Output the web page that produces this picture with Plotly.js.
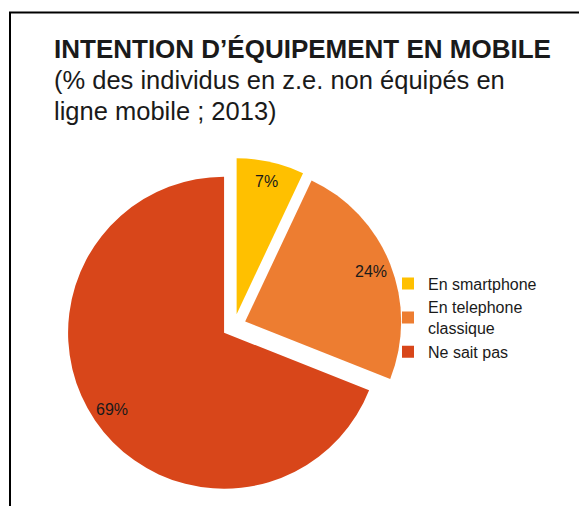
<!DOCTYPE html>
<html>
<head>
<meta charset="utf-8">
<script src="https://cdn.plot.ly/plotly-3.0.1.min.js"></script>
<style>html,body{margin:0;padding:0;background:#fff;}#chart{width:579px;height:506px;}</style>
</head>
<body>
<div id="chart"></div>
<script>
// ---- data ----
var categories = ["En smartphone", "En telephone<br>classique", "Ne sait pas"];
var values = [7, 24, 69];
var valueLabels = ["7%", "24%", "69%"];
var colors = ["#FFC000", "#ED7D31", "#D8461A"];

// ---- layout constants ----
var W = 579, H = 506;
var PULL = 0.077;
var domX = [0.114, 0.6943];
var domY = [0.0237, 0.6878];
var LABEL_R = 0.87; // label distance as fraction of radius
var FONT = "Liberation Sans, Arial, sans-serif";

// pie geometry (same as plotly's scalePies with zero margins)
var sw = W * (domX[1] - domX[0]), sh = H * (domY[1] - domY[0]);
var r = Math.min(sw, sh) / 2 / (1 + PULL);
var cx = W * (domX[0] + domX[1]) / 2;
var cy = H * (1 - (domY[0] + domY[1]) / 2);

var total = values.reduce(function (a, b) { return a + b; }, 0);
var annotations = [];
var cum = 0;
for (var i = 0; i < values.length; i++) {
  var mid = (cum + values[i] / 2) / total * 2 * Math.PI; // clockwise from top
  cum += values[i];
  var d = r * (PULL + LABEL_R);
  var px = cx + d * Math.sin(mid);
  var py = cy - d * Math.cos(mid);
  annotations.push({
    xref: "paper", yref: "paper",
    x: px / W, y: 1 - py / H,
    text: valueLabels[i], showarrow: false,
    xanchor: "center", yanchor: "middle",
    font: {family: FONT, size: 16, color: "#1a1a1a"}
  });
}

var trace = {
  type: "pie",
  labels: categories,
  values: values,
  sort: false,
  direction: "clockwise",
  rotation: 0,
  pull: values.map(function () { return PULL; }),
  marker: {colors: colors, line: {width: 0}},
  textinfo: "none",
  hoverinfo: "none",
  domain: {x: domX, y: domY}
};

var layout = {
  width: W, height: H,
  margin: {l: 0, r: 0, t: 0, b: 0},
  paper_bgcolor: "#ffffff",
  font: {family: FONT, color: "#1a1a1a"},
  title: {
    text: "<span style=\"font-size:26px\"><b>INTENTION D’ÉQUIPEMENT EN MOBILE</b></span><br><span style=\"font-size:25.5px\">(% des individus en z.e. non équipés en</span><br><span style=\"font-size:25.5px\">ligne mobile ; 2013)</span>",
    font: {family: FONT, size: 24, color: "#1a1a1a"},
    xref: "paper", yref: "container",
    x: 54 / W, xanchor: "left",
    y: 1 - 58 / H, yanchor: "top"
  },
  showlegend: true,
  legend: {
    x: 388 / W, xanchor: "left",
    y: 1 - 318 / H, yanchor: "middle",
    font: {family: FONT, size: 16, color: "#1a1a1a"},
    bgcolor: "rgba(0,0,0,0)",
    traceorder: "normal"
  },
  annotations: annotations,
  shapes: [{
    type: "rect", xref: "paper", yref: "paper",
    x0: 10 / W, x1: 1.2, y0: -0.2, y1: 1 - 12.5 / H,
    line: {color: "#000000", width: 2}, fillcolor: "rgba(0,0,0,0)"
  }]
};

Plotly.newPlot("chart", [trace], layout, {displayModeBar: false, staticPlot: true});
</script>
</body>
</html>
